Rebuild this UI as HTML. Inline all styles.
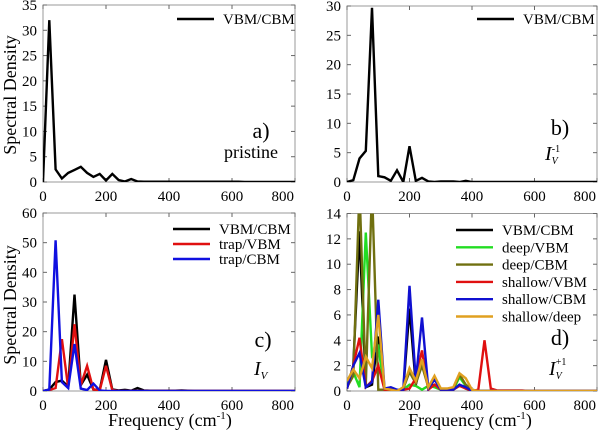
<!DOCTYPE html>
<html><head><meta charset="utf-8"><style>
body{margin:0;background:#fff;}
svg{display:block;font-family:"Liberation Serif",serif;}
</style></head><body>
<svg id="c" width="600" height="435" viewBox="0 0 600 435"></svg>
<script>
const freqs = Array.from({length:41},(_,i)=>i*20);
function pad(a){const r=a.slice();while(r.length<41)r.push(0);return r;}
const aVbmCbm = pad([0,32,2.5,0.7,1.8,2.4,3,1.8,1,1.6,0.3,1.6,0.4,0.1,0.6,0.1,0.05,0.05,0.05,0.05,0.05,0.05,0.05,0.05,0.05,0.05,0.05,0.05,0.05,0.05,0.05,0.05]);
const bVbmCbm = pad([0,0.3,4,5.3,29.7,1,0.8,0.2,2,0,6.1,0.2,0.7,0.1,0,0.1,0.1,0.1,0,0.2,0]);
const cVbmCbm = pad([0,0.5,3,3.5,1.5,32.5,2,5.5,0.5,0.3,10.5,0.5,0.2,0.4,0.1,1,0.2,0.1,0.1,0.1,0.1,0.1,0.2,0.1]);
const cTrapVbm = pad([0,0.3,1,17.5,1,22.5,2,8.5,0.5,0.2,8.5,0.3]);
const cTrapCbm = pad([0,0.5,50.8,3,1,15.8,0.8,0.3,2.5,0.2]);
const dVbmCbm = pad([0.2,2,12.6,0.3,0.5,4.3,0.2,0.1,0,0.1,6.5,0.5,2.5,0.3,0.5,0.1,0.1,0.1,0.5,0.2]);
const dDeepVbm = pad([0.5,1.5,0.3,12.5,2.8,3.5,0.1,0.1,0,0.1,0.5,0.4,0.1,0.4,0.3,0.1,0.1,0.1,1.1,0.4,0.1]);
const dDeepCbm = pad([0.3,1.2,16,0.5,16,0.1,0.1,0,0,0.2,1.5,0.6,2,0.3,1,0.2,0.1,0.2,1.3,0.5,0.1]);
const dShallowVbm = pad([0.2,2,4.2,0.3,0.8,2,0.1,0.1,0,0.1,0.2,1,3.2,0.1,0.5,0.1,0.1,0.1,0.4,0.2,0,0.1,4,0.2,0.05,0.05,0.05,0.05,0.05]);
const dShallowCbm = pad([0.2,2,3,0.3,0.7,7.2,0.2,0.3,0.1,0.1,8.3,0.8,5.8,0.2,0.9,0.1,0.1,0.1,0.5,0.3,0]);
const dShallowDeep = pad([0.8,1.7,1,2.7,1.8,6,0.2,0.1,0,0.3,1.8,0.8,2.5,0.3,1.2,0.2,0.2,0.3,1.4,1,0.1]);
const xTicks=[0,200,400,600,800];

const svg=document.getElementById('c');
const NS='http://www.w3.org/2000/svg';
function mk(tag,attrs,parent){const e=document.createElementNS(NS,tag);for(const k in attrs)e.setAttribute(k,attrs[k]);(parent||svg).appendChild(e);return e;}

function panel(p){
  const g=mk('g',{});
  
  
  const xs=v=>p.x0+(v/800)*(p.x1-p.x0);
  const ys=v=>p.y0-(v/p.ymax)*(p.y0-p.y1);
  const clipId='clip'+p.id;
  const cp=mk('clipPath',{id:clipId},g);mk('rect',{x:p.x0,y:p.y1,width:p.x1-p.x0,height:p.y0-p.y1},cp);
  const fr=mk('rect',{x:p.x0,y:p.y1,width:p.x1-p.x0,height:p.y0-p.y1,fill:'none',stroke:'#999','stroke-width':1},g);
  
  
  xTicks.forEach(t=>{
    const x=xs(t);
    mk('line',{x1:x,x2:x,y1:p.y0,y2:p.y0-4,stroke:'#666'},g);
    mk('line',{x1:x,x2:x,y1:p.y1,y2:p.y1+4,stroke:'#666'},g);
    const last=(t===800);
    const tx=mk('text',{x:last?x-1:x,y:p.y0+19,'font-size':15,'text-anchor':last?'end':'middle'},g);tx.textContent=t;
    
    
  });
  for(let t=0;t<=p.ymax;t+=p.ystep){
    const y=ys(t);
    mk('line',{x1:p.x0,x2:p.x0+4,y1:y,y2:y,stroke:'#666'},g);
    mk('line',{x1:p.x1,x2:p.x1-4,y1:y,y2:y,stroke:'#666'},g);
    const tx=mk('text',{x:p.x0-6,y:y+5,'font-size':15,'text-anchor':'end'},g);tx.textContent=t;
    
    
  }
  const sg=mk('g',{'clip-path':'url(#'+clipId+')'},g);
  p.series.forEach(s=>{
    const pts=freqs.map((f,i)=>xs(f).toFixed(1)+','+ys(s.v[i]).toFixed(1)).join(' ');
    const pl=mk('polyline',{points:pts,fill:'none',stroke:s.c,'stroke-width':2.4,'stroke-linejoin':'miter'},sg);
    
    
  });
  p.series.forEach((s,i)=>{
    const ly=p.ly+i*p.lstep;
    const le=mk('g',{},g);
    
    
    mk('line',{x1:p.lx,x2:p.lx+37,y1:ly,y2:ly,stroke:s.c,'stroke-width':2.4},le);
    const t=mk('text',{x:p.lx+46,y:ly+5,'font-size':15},le);t.textContent=s.n;
  });
}
panel({id:'a',x0:43,x1:295,y0:182,y1:5,ymax:35,ystep:5,lx:177,ly:19,lstep:17,
  series:[{n:'VBM/CBM',c:'#000',v:aVbmCbm}]});
panel({id:'b',x0:347,x1:597,y0:182,y1:6,ymax:30,ystep:5,lx:477,ly:19,lstep:17,
  series:[{n:'VBM/CBM',c:'#000',v:bVbmCbm}]});
panel({id:'c',x0:43,x1:295,y0:391,y1:213,ymax:60,ystep:10,lx:173,ly:229,lstep:15,
  series:[{n:'VBM/CBM',c:'#000',v:cVbmCbm},{n:'trap/VBM',c:'#e01010',v:cTrapVbm},{n:'trap/CBM',c:'#1010e0',v:cTrapCbm}]});
panel({id:'d',x0:347,x1:597,y0:391,y1:213.5,ymax:14,ystep:2,lx:456,ly:230,lstep:17.3,
  series:[{n:'VBM/CBM',c:'#000',v:dVbmCbm},{n:'deep/VBM',c:'#22dd22',v:dDeepVbm},{n:'deep/CBM',c:'#707010',v:dDeepCbm},
          {n:'shallow/VBM',c:'#e01010',v:dShallowVbm},{n:'shallow/CBM',c:'#1010d0',v:dShallowCbm},{n:'shallow/deep',c:'#e0a020',v:dShallowDeep}]});

function txt(s,attrs,name){const t=mk('text',attrs);t.innerHTML=s;return t;}
txt('Spectral Density',{x:0,y:0,'font-size':18,'text-anchor':'middle',transform:'translate(16,95) rotate(-90)'},'y-axis-title-top');
txt('Spectral Density',{x:0,y:0,'font-size':18,'text-anchor':'middle',transform:'translate(16,305) rotate(-90)'},'y-axis-title-bottom');
txt('Frequency (cm<tspan font-size="11" dy="-7">-1</tspan><tspan dy="7">)</tspan>',{x:170,y:426,'font-size':18,'text-anchor':'middle'},'x-axis-title-left');
txt('Frequency (cm<tspan font-size="11" dy="-7">-1</tspan><tspan dy="7">)</tspan>',{x:470,y:426,'font-size':18,'text-anchor':'middle'},'x-axis-title-right');
txt('a)',{x:261,y:138,'font-size':22,'text-anchor':'middle'},'panel-label-a');
txt('pristine',{x:251,y:158,'font-size':18,'text-anchor':'middle'},'panel-caption-a');
txt('b)',{x:560,y:135,'font-size':22,'text-anchor':'middle'},'panel-label-b');
txt('<tspan font-style="italic">I</tspan><tspan font-size="10" font-style="italic" dy="4">V</tspan><tspan font-size="10" dx="-6" dy="-12">-1</tspan>',{x:545,y:160,'font-size':20},'panel-caption-b');
txt('c)',{x:263,y:347,'font-size':22,'text-anchor':'middle'},'panel-label-c');
txt('<tspan font-style="italic">I</tspan><tspan font-size="11" font-style="italic" dy="4">V</tspan>',{x:254,y:375,'font-size':20},'panel-caption-c');
txt('d)',{x:560,y:345,'font-size':22,'text-anchor':'middle'},'panel-label-d');
txt('<tspan font-style="italic">I</tspan><tspan font-size="10" font-style="italic" dy="4">V</tspan><tspan font-size="10" dx="-6" dy="-14">+1</tspan>',{x:549,y:375,'font-size':20},'panel-caption-d');
</script>
</body></html>
